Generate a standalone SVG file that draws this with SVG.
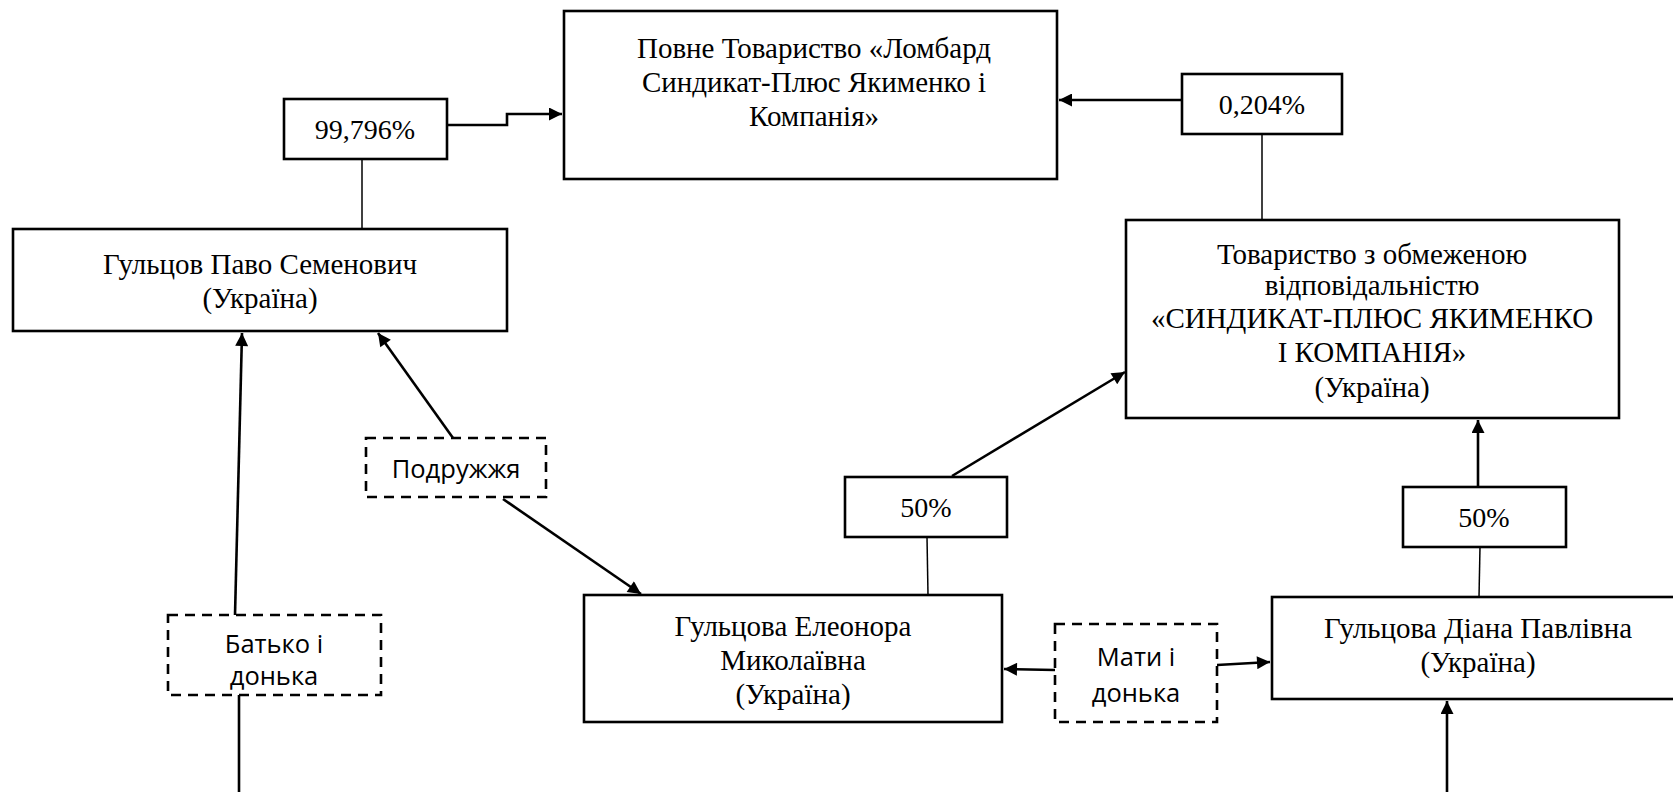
<svg xmlns="http://www.w3.org/2000/svg" width="1673" height="792" viewBox="0 0 1673 792">
<style>
.box{fill:#fff;stroke:#000;stroke-width:2.6}
.dbox{fill:#fff;stroke:#000;stroke-width:2.6;stroke-dasharray:10 7}
.t{font-family:"Liberation Serif","Times New Roman",serif;font-size:29px;fill:#000;text-anchor:middle}
.p{font-size:28px}
.s{font-family:"Open Sans","Liberation Sans",sans-serif;font-size:25.5px;fill:#000;text-anchor:middle}
.c{fill:none;stroke:#000;stroke-width:2.6}
.thin{fill:none;stroke:#000;stroke-width:1.5}
</style>
<defs>
<marker id="ah" viewBox="0 0 10 10" refX="10" refY="5" markerWidth="15" markerHeight="13" markerUnits="userSpaceOnUse" orient="auto">
<path d="M0,0 L10,5 L0,10 z" fill="#000"/>
</marker>
</defs>
<rect width="1673" height="792" fill="#fff"/>
<g id="connectors">
<polyline class="c" points="447,125 507,125 507,114 562,114" marker-end="url(#ah)"/>
<line class="thin" x1="362" y1="160" x2="362" y2="229"/>
<line class="c" x1="1182" y1="100" x2="1059" y2="100" marker-end="url(#ah)"/>
<line class="thin" x1="1262" y1="134" x2="1262" y2="220"/>
<line class="c" x1="952" y1="476" x2="1125" y2="372" marker-end="url(#ah)"/>
<line class="thin" x1="927" y1="537" x2="928" y2="595"/>
<line class="c" x1="1478" y1="487" x2="1478" y2="420" marker-end="url(#ah)"/>
<line class="thin" x1="1480" y1="547" x2="1479" y2="597"/>
<line class="c" x1="1055" y1="670" x2="1004" y2="669" marker-end="url(#ah)"/>
<line class="c" x1="1217" y1="665" x2="1270" y2="662" marker-end="url(#ah)"/>
<line class="c" x1="453" y1="438" x2="378" y2="333" marker-end="url(#ah)"/>
<line class="c" x1="503" y1="499" x2="641" y2="594" marker-end="url(#ah)"/>
<line class="c" x1="235" y1="615" x2="242" y2="333" marker-end="url(#ah)"/>
<line class="c" x1="239" y1="695" x2="239" y2="792"/>
<line class="c" x1="1447" y1="792" x2="1447" y2="701" marker-end="url(#ah)"/>
</g>
<g id="n-top">
<rect class="box" x="564" y="11" width="493" height="168"/>
<text class="t" x="814" y="58">Повне Товариство «Ломбард</text>
<text class="t" x="814" y="92">Синдикат-Плюс Якименко і</text>
<text class="t" x="814" y="126">Компанія»</text>
</g>
<g id="n-pct99">
<rect class="box" x="284" y="99" width="163" height="60"/>
<text class="t p" x="365" y="139">99,796%</text>
</g>
<g id="n-pct0204">
<rect class="box" x="1182" y="74" width="160" height="60"/>
<text class="t p" x="1262" y="114">0,204%</text>
</g>
<g id="n-gultsov">
<rect class="box" x="13" y="229" width="494" height="102"/>
<text class="t" x="260" y="274">Гульцов Паво Семенович</text>
<text class="t" x="260" y="308">(Україна)</text>
</g>
<g id="n-tov">
<rect class="box" x="1126" y="220" width="493" height="198"/>
<text class="t" x="1372" y="264">Товариство з обмеженою</text>
<text class="t" x="1372" y="295">відповідальністю</text>
<text class="t" x="1372" y="328">«СИНДИКАТ-ПЛЮС ЯКИМЕНКО</text>
<text class="t" x="1372" y="362">І КОМПАНІЯ»</text>
<text class="t" x="1372" y="397">(Україна)</text>
</g>
<g id="n-pct50a">
<rect class="box" x="845" y="477" width="162" height="60"/>
<text class="t p" x="926" y="517">50%</text>
</g>
<g id="n-pct50b">
<rect class="box" x="1403" y="487" width="163" height="60"/>
<text class="t p" x="1484" y="527">50%</text>
</g>
<g id="n-eleonora">
<rect class="box" x="584" y="595" width="418" height="127"/>
<text class="t" x="793" y="636">Гульцова Елеонора</text>
<text class="t" x="793" y="670">Миколаївна</text>
<text class="t" x="793" y="704">(Україна)</text>
</g>
<g id="n-diana">
<rect class="box" x="1272" y="597" width="412" height="102"/>
<text class="t" x="1478" y="638">Гульцова Діана Павлівна</text>
<text class="t" x="1478" y="672">(Україна)</text>
</g>
<g id="n-podruzhzhia">
<rect class="dbox" x="366" y="438" width="180" height="59"/>
<text class="s" x="456" y="478">Подружжя</text>
</g>
<g id="n-batko">
<rect class="dbox" x="168" y="615" width="213" height="80"/>
<text class="s" x="274" y="653">Батько і</text>
<text class="s" x="274" y="685">донька</text>
</g>
<g id="n-maty">
<rect class="dbox" x="1055" y="624" width="162" height="98"/>
<text class="s" x="1136" y="666">Мати і</text>
<text class="s" x="1136" y="702">донька</text>
</g>
</svg>
